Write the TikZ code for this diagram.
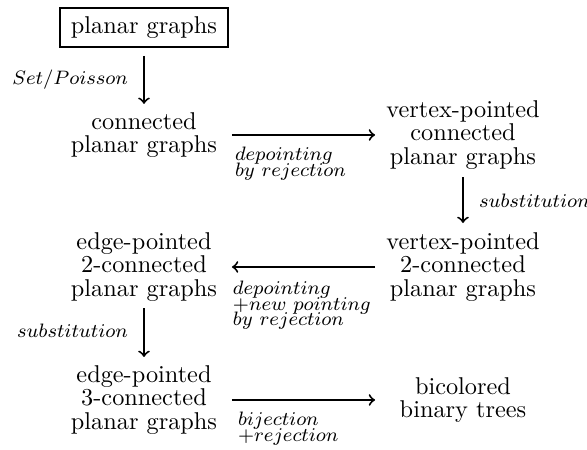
\documentclass[tikz,border=0pt]{standalone}
\newcommand\clsfont{\fontsize{10}{9.6}\selectfont\lineskiplimit=-20pt\relax}
\newcommand\labfont{\fontsize{8}{6.4}\selectfont\lineskiplimit=-20pt\relax}
\begin{document}
\begin{tikzpicture}[x=0.4115pt,y=-0.4115pt,
  every node/.style={inner sep=0pt,outer sep=0pt},
  cls/.style={align=center,font=\clsfont},
  boxed/.style={cls,draw,line width=1.1pt,minimum width=69.1pt,minimum height=16pt},
  lab/.style={align=left,font=\labfont},
  arr/.style={->,line width=0.8pt}]
\useasboundingbox (0,0) rectangle (587,450);

\node[boxed] (pg) at (144,27.5) {planar graphs};
\node[cls] (cpg) at (144,135) {connected\\planar graphs};
\node[cls] (vpc) at (463,135) {vertex-pointed\\connected\\planar graphs};
\node[cls] (vp2) at (463,267) {vertex-pointed\\2-connected\\planar graphs};
\node[cls] (ep2) at (144,267) {edge-pointed\\2-connected\\planar graphs};
\node[cls] (ep3) at (144,400) {edge-pointed\\3-connected\\planar graphs};
\node[cls] (bbt) at (463,400) {bicolored\\binary trees};

\draw[arr,shorten <=11.7pt,shorten >=12.8pt] (pg.center) -- (cpg.center);
\draw[arr,shorten <=36.2pt,shorten >=36.2pt] (cpg.center) -- (vpc.center);
\draw[arr,shorten <=17.3pt,shorten >=18.1pt] (vpc.center) -- (vp2.center);
\draw[arr,shorten <=36.2pt,shorten >=36.2pt] (vp2.center) -- (ep2.center);
\draw[arr,shorten <=16.9pt,shorten >=17.7pt] (ep2.center) -- (ep3.center);
\draw[arr,shorten <=36.2pt,shorten >=36.2pt] (ep3.center) -- (bbt.center);

\node[lab,anchor=base east] (l1) at (128,85) {$Set/Poisson$};
\node[lab,anchor=north west] (l2) at (235,147.5) {$depointing$\\$by\ rejection$};
\node[lab,anchor=base west] (l3) at (479,208) {$substitution$};
\node[lab,anchor=north west] (l4) at (233,281) {$depointing$\\$+new\ pointing$\\$by\ rejection$};
\node[lab,anchor=base east] (l5) at (128,338) {$substitution$};
\node[lab,anchor=north west] (l6) at (238,412.5) {$bijection$\\$+rejection$};
\end{tikzpicture}
\end{document}
